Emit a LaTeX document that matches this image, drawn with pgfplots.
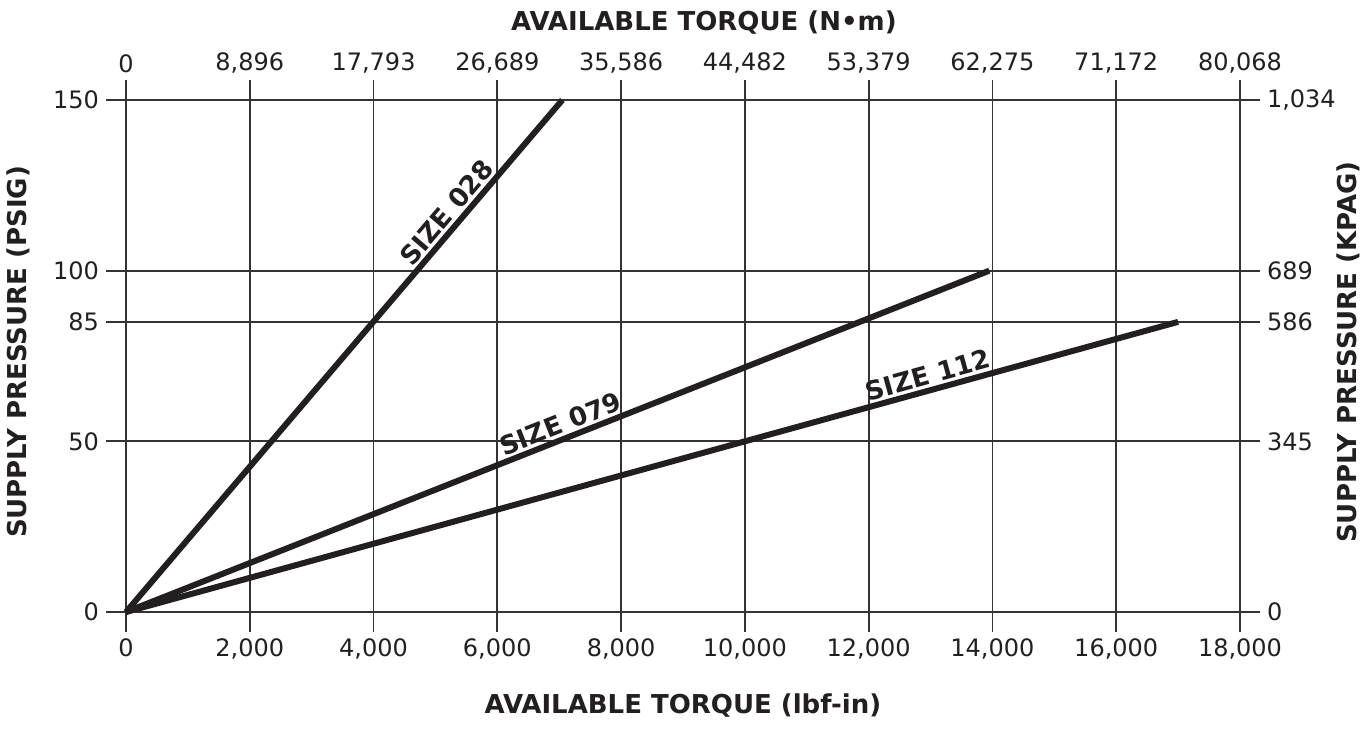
\documentclass[border=0pt]{standalone}
\usepackage{pgfplots}
\pgfplotsset{compat=1.18}
\usepackage{fontspec}
\setmainfont{DejaVu Sans}
\definecolor{ink}{HTML}{231F20}
\definecolor{gridc}{HTML}{333333}
\tikzset{lbl/.style={anchor=south, inner sep=2.5pt, font=\bfseries\fontsize{13}{15}\selectfont, text=ink}}
\begin{document}
\begin{tikzpicture}
\path[use as bounding box] (-63pt,-58.5pt) rectangle (623pt,306pt);
\pgfplotsset{
  base/.style={
    at={(0pt,0pt)}, anchor=origin,
    scale only axis, width=557pt, height=256pt,
    xmin=0, xmax=18000, ymin=0, ymax=150,
    axis line style={draw=none},
    scaled x ticks=false, scaled y ticks=false,
    tick align=outside, major tick length=10pt,
    tick style={gridc, line width=0.9pt},
    xtick={0,2000,4000,6000,8000,10000,12000,14000,16000,18000},
    ytick={0,50,85,100,150},
    tick label style={font=\fontsize{12}{14}\selectfont, text=ink},
    clip=false,
  },
}
\begin{axis}[base,
  xtick pos=bottom, ytick pos=left,
  grid=major, major grid style={gridc, line width=0.9pt},
  xticklabels={0,{2,000},{4,000},{6,000},{8,000},{10,000},{12,000},{14,000},{16,000},{18,000}},
  yticklabels={0,50,85,100,150},
]
\addplot[ink, line width=3pt, line cap=butt] coordinates {(0,0) (7050,150)};
\addplot[ink, line width=3pt, line cap=butt] coordinates {(0,0) (13950,100)};
\addplot[ink, line width=3pt, line cap=butt] coordinates {(0,0) (17000,85)};
\node[lbl, rotate=49.55] at (axis cs:5368,114.2) {SIZE 028};
\node[lbl, rotate=21.57] at (axis cs:7113,51.0) {SIZE 079};
\node[lbl, rotate=15.43] at (axis cs:13025,65.1) {SIZE 112};
\end{axis}
\begin{axis}[base,
  xtick pos=top, ytick pos=right,
  xticklabel pos=top, yticklabel pos=right,
  xticklabels={0,{8,896},{17,793},{26,689},{35,586},{44,482},{53,379},{62,275},{71,172},{80,068}},
  yticklabels={0,345,586,689,{1,034}},
]
\addplot[draw=none] coordinates {(0,0)};
\end{axis}
\begin{scope}[every node/.style={font=\bfseries\fontsize{13}{15}\selectfont, text=ink}]
\node at (278.5pt,-47pt) {AVAILABLE TORQUE (lbf-in)};
\node at (289pt,294.5pt) {AVAILABLE TORQUE (N•m)};
\node[rotate=90] at (-54pt,130pt) {SUPPLY PRESSURE (PSIG)};
\node[rotate=90] at (611pt,130pt) {SUPPLY PRESSURE (KPAG)};
\end{scope}
\end{tikzpicture}
\end{document}
